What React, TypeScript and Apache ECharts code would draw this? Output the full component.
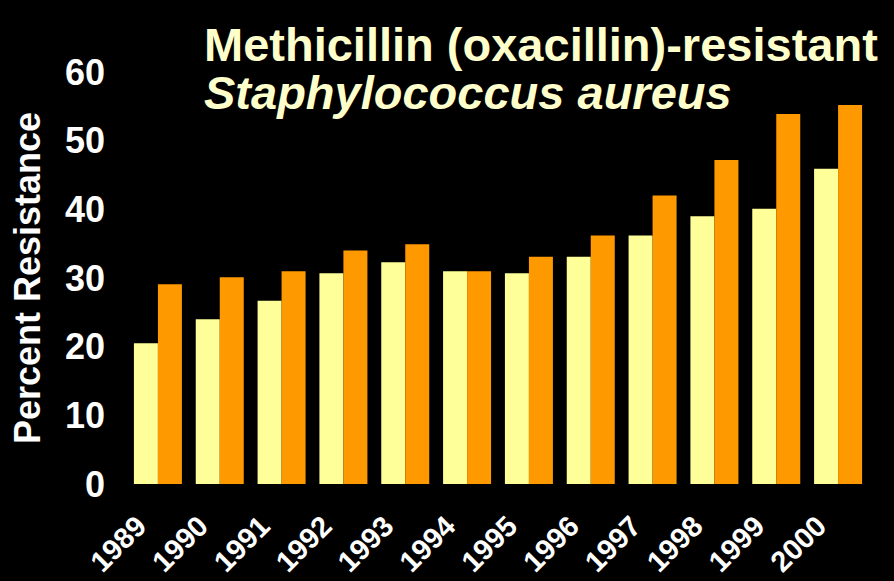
import React, { useEffect, useRef } from "react";
import * as echarts from "echarts";

const years = ["1989", "1990", "1991", "1992", "1993", "1994", "1995", "1996", "1997", "1998", "1999", "2000"];
const nonIcu = [20.5, 24.0, 26.7, 30.7, 32.3, 31.0, 30.7, 33.1, 36.2, 39.0, 40.1, 45.9];
const icu = [29.1, 30.1, 31.0, 34.0, 34.9, 31.0, 33.1, 36.2, 42.0, 47.2, 53.9, 55.2];

const titleLine1 = "Methicillin (oxacillin)-resistant";
const titleLine2 = "Staphylococcus aureus";
const yName = "Percent Resistance";

const FONT = "'Liberation Sans', Arial, sans-serif";

export default function App() {
  const ref = useRef<HTMLDivElement>(null);
  useEffect(() => {
    if (!ref.current) return;
    const chart = echarts.init(ref.current, undefined, { renderer: "svg" });
    chart.setOption({
      animation: false,
      backgroundColor: "#000000",
      title: {
        left: 199,
        top: 17,
        text: titleLine1,
        subtext: titleLine2,
        itemGap: 1,
        textStyle: { color: "#FFFFCC", fontSize: 47, fontWeight: "bold", fontFamily: FONT, lineHeight: 44 },
        subtextStyle: { color: "#FFFFCC", fontSize: 47, fontWeight: "bold", fontStyle: "italic", fontFamily: FONT, lineHeight: 44 },
      },
      grid: { left: 127, right: 25, top: 72, bottom: 97, containLabel: false, outerBoundsMode: "none" },
      xAxis: {
        type: "category",
        data: years,
        axisLine: { show: false },
        axisTick: { show: false },
        axisLabel: {
          interval: 0,
          rotate: 45,
          margin: 20,
          padding: [0, 24, 0, 0],
          lineHeight: 29,
          color: "#FFFFFF",
          fontSize: 29,
          fontWeight: "bold",
          fontFamily: FONT,
        },
      },
      yAxis: {
        type: "value",
        min: 0,
        max: 60,
        interval: 10,
        name: yName,
        nameLocation: "middle",
        nameGap: 82,
        nameRotate: 90,
        nameTextStyle: { color: "#FFFFFF", fontSize: 36, fontWeight: "bold", fontFamily: FONT },
        axisLine: { show: false },
        axisTick: { show: false },
        splitLine: { show: false },
        axisLabel: { margin: 22, color: "#FFFFFF", fontSize: 36, fontWeight: "bold", fontFamily: FONT },
      },
      series: [
        { name: "Non-ICU", type: "bar", data: nonIcu, barWidth: 24, barGap: "0%", itemStyle: { color: "#FFFF99" } },
        { name: "ICU", type: "bar", data: icu, barWidth: 24, barGap: "0%", itemStyle: { color: "#FF9900" } },
      ],
    });
    return () => chart.dispose();
  }, []);
  return <div ref={ref} style={{ position: "fixed", left: 0, top: 0, width: 894, height: 581 }} />;
}
